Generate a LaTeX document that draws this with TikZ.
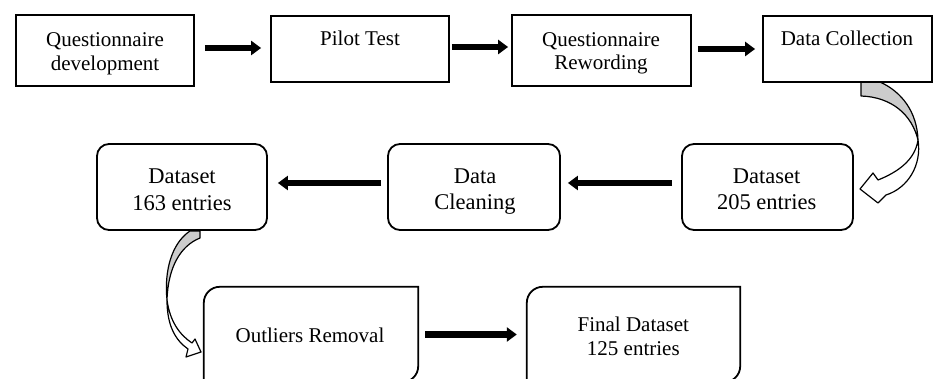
\documentclass[tikz,border=0pt]{standalone}
\usepackage{fontspec}
\setmainfont{Liberation Serif}
\usetikzlibrary{arrows.meta}
\begin{document}
\begin{tikzpicture}[x=1pt,y=-1pt,
  box/.style={draw, line width=1.8pt, inner sep=0pt},
  rbox/.style={draw, line width=1.8pt, inner sep=0pt, rounded corners=12pt},
  plain/.style={inner sep=0pt},
  edge3/.style={line width=1.8pt},
  tA/.style={font=\fontsize{21}{24}\selectfont, anchor=base, inner sep=0pt},
  tB/.style={font=\fontsize{22.5}{27}\selectfont, anchor=base, inner sep=0pt},
  arr/.style={line width=6.5pt, -{Triangle[length=10pt,width=14pt]}},
  cband/.style={draw, line width=1.2pt, line join=round}]
\fill[white] (0,0) rectangle (934,379);
\useasboundingbox (0,0) rectangle (934,379);

% curved block arrows
\draw[cband, fill=gray!40] (861,82) -- (880,82) .. controls (902,92) and (917,112) .. (918,140) .. controls (912,115) and (892,97) .. (861,96) -- cycle;
\draw[cband, fill=white] (918,140) .. controls (922,165) and (908,188) .. (886,195) -- (878,203) -- (860,189) -- (873,173) -- (878,180) .. controls (898,172) and (915,160) .. (918,140) -- cycle;

\draw[cband, fill=gray!40] (200,231) -- (200,238) .. controls (180,246) and (168,268) .. (167,300) .. controls (164,270) and (172,243) .. (190,231) -- cycle;
\draw[cband, fill=white] (167,300) .. controls (167,325) and (175,340) .. (188,349) -- (186,357) -- (201,352) -- (195,339) -- (192,343) .. controls (180,335) and (170,322) .. (167,300) -- cycle;

% row 1
\node[box, minimum width=178pt, minimum height=71pt] (b1) at (105,50.5) {};
\node[box, minimum width=178pt, minimum height=66pt] (b2) at (360,49) {};
\node[box, minimum width=179pt, minimum height=71pt] (b3) at (601.5,50.5) {};
\node[box, minimum width=169pt, minimum height=66pt] (b4) at (847.5,49) {};

\node[tA] (t1a) at (105,46.5) {Questionnaire};
\node[tA] (t1b) at (105,70.5) {development};
\node[tA] (t2) at (360,46) {Pilot Test};
\node[tA] (t3a) at (601,46.5) {Questionnaire};
\node[tA] (t3b) at (601,70) {Rewording};
\node[tA] (t4) at (847,45.7) {Data Collection};

% row 2
\node[rbox, minimum width=170pt, minimum height=86pt] (d163) at (182,187) {};
\node[rbox, minimum width=172pt, minimum height=86pt] (clean) at (474,187) {};
\node[rbox, minimum width=171pt, minimum height=86pt] (d205) at (767.5,187) {};

\node[tB] (t5a) at (182,183.3) {Dataset};
\node[tB] (t5b) at (182,210.5) {163 entries};
\node[tB] (t6a) at (475,183.3) {Data};
\node[tB] (t6b) at (475,210) {Cleaning};
\node[tB] (t7a) at (766.7,183.3) {Dataset};
\node[tB] (t7b) at (766.7,210) {205 entries};

% row 3
\node[plain, minimum width=214pt, minimum height=95pt] (outl) at (311,334.5) {};
\node[plain, minimum width=213pt, minimum height=95pt] (fin) at (633.5,334.5) {};
\draw[edge3] (outl.south west) -- ([yshift=-16pt]outl.north west) arc[start angle=180,end angle=90,radius=16pt] -- (outl.north east) -- ([yshift=16pt]outl.south east) arc[start angle=0,end angle=-90,radius=16pt] -- cycle;
\draw[edge3] (fin.south west) -- ([yshift=-16pt]fin.north west) arc[start angle=180,end angle=90,radius=16pt] -- (fin.north east) -- ([yshift=16pt]fin.south east) arc[start angle=0,end angle=-90,radius=16pt] -- cycle;

\node[tA] (t8) at (310,342.7) {Outliers Removal};
\node[tA] (t9a) at (633.3,331.7) {Final Dataset};
\node[tA] (t9b) at (633.3,355) {125 entries};

% straight arrows
\draw[arr] ([xshift=10pt,yshift=2.5pt]b1.east) -- ([xshift=-9pt,yshift=1pt]b2.west);
\draw[arr] ([xshift=2pt,yshift=2pt]b2.east) -- ([xshift=-3pt,yshift=3.5pt]b3.west);
\draw[arr] ([xshift=6pt,yshift=1.5pt]b3.east) -- ([xshift=-7pt]b4.west);
\draw[arr] ([xshift=-9pt,yshift=4pt]d205.west) -- ([xshift=7pt,yshift=4pt]clean.east);
\draw[arr] ([xshift=-6pt,yshift=4pt]clean.west) -- ([xshift=10pt,yshift=4pt]d163.east);
\draw[arr] ([xshift=7pt]outl.east) -- ([xshift=-10pt]fin.west);
\end{tikzpicture}
\end{document}
